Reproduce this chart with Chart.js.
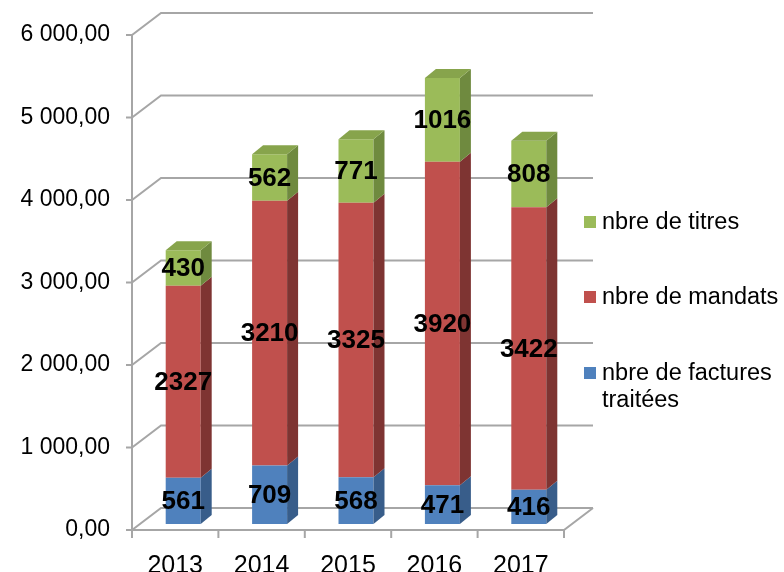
<!DOCTYPE html>
<html><head><meta charset="utf-8">
<script src="https://cdn.jsdelivr.net/npm/chart.js@4/dist/chart.umd.min.js"></script>
<style>html,body{margin:0;padding:0;background:#fff;}canvas{display:block}</style>
</head><body>
<canvas id="c" width="784" height="572"></canvas>
<script>
// ---- data ----
const years = ['2013', '2014', '2015', '2016', '2017'];
const facturesTraitees = [561, 709, 568, 471, 416];
const mandats = [2327, 3210, 3325, 3920, 3422];
const titres = [430, 562, 771, 1016, 808];
const yTicks = [0, 1000, 2000, 3000, 4000, 5000, 6000];
const seriesLabels = ['nbre de factures traitées', 'nbre de mandats', 'nbre de titres'];

// ---- styles ----
const FONT = '"Liberation Sans", Arial, sans-serif';
const FRONT = ['#4F81BD', '#C0504D', '#9BBB59'];
const SIDE = ['#385D8A', '#7E3432', '#6F8A3F'];
const TOP = ['#4472A8', '#A8423F', '#87A44C'];
const GRID = '#A6A6A6';
const AX_SHIFT = {x: -8, y: 6};     // bar plane -> front plane
const WALL = {x: 29, y: -22};      // front -> back wall
const BAR3D = {x: 11, y: -9};      // bar depth

function fmt(v) {
  const s = Number(v).toFixed(2).split('.');
  return s[0].replace(/\B(?=(\d{3})+(?!\d))/g, ' ') + ',' + s[1];
}

const walls = {
  id: 'walls',
  beforeDatasetsDraw(chart) {
    const {ctx, chartArea: a, scales: {x, y}} = chart;
    const fx = a.left + AX_SHIFT.x, rx = a.right + AX_SHIFT.x;
    ctx.save();
    ctx.strokeStyle = GRID; ctx.lineWidth = 2; ctx.lineJoin = 'miter';
    y.ticks.forEach(t => {
      const py = y.getPixelForValue(t.value) + AX_SHIFT.y;
      ctx.beginPath();
      ctx.moveTo(fx - 6, py); ctx.lineTo(fx, py);
      ctx.lineTo(fx + WALL.x, py + WALL.y);
      ctx.lineTo(rx + WALL.x, py + WALL.y);
      ctx.stroke();
    });
    const top = y.getPixelForValue(y.max) + AX_SHIFT.y;
    const bot = y.getPixelForValue(0) + AX_SHIFT.y;
    ctx.beginPath();
    ctx.moveTo(fx, top); ctx.lineTo(fx, bot); ctx.lineTo(rx, bot);
    ctx.lineTo(rx + WALL.x, bot + WALL.y);
    ctx.stroke();
    const n = x.ticks.length, w = (a.right - a.left) / n;
    for (let i = 0; i <= n; i++) {
      const px = a.left + i * w + AX_SHIFT.x;
      ctx.beginPath(); ctx.moveTo(px, bot); ctx.lineTo(px, bot + 8); ctx.stroke();
    }
    ctx.restore();
  }
};

const bars3d = {
  id: 'bars3d',
  afterDatasetsDraw(chart) {
    const ctx = chart.ctx;
    const last = chart.data.datasets.length - 1;
    const poly = pts => { ctx.beginPath(); ctx.moveTo(pts[0][0], pts[0][1]); pts.slice(1).forEach(p => ctx.lineTo(p[0], p[1])); ctx.closePath(); ctx.fill(); };
    ctx.save();
    chart.data.datasets.forEach((ds, di) => {
      chart.getDatasetMeta(di).data.forEach(bar => {
        const {x, y, base, width} = bar.getProps(['x', 'y', 'base', 'width'], true);
        const l = x - width / 2, r = x + width / 2;
        ctx.fillStyle = SIDE[di];
        poly([[r, y], [r + BAR3D.x, y + BAR3D.y], [r + BAR3D.x, base + BAR3D.y], [r, base]]);
        if (di === last) {
          ctx.fillStyle = TOP[di];
          poly([[l, y], [l + BAR3D.x, y + BAR3D.y], [r + BAR3D.x, y + BAR3D.y], [r, y]]);
        }
      });
    });
    ctx.fillStyle = '#000';
    ctx.font = 'bold 26px ' + FONT;
    ctx.textAlign = 'center'; ctx.textBaseline = 'middle';
    chart.data.datasets.forEach((ds, di) => {
      chart.getDatasetMeta(di).data.forEach((bar, i) => {
        const {x, y, base} = bar.getProps(['x', 'y', 'base'], true);
        ctx.fillText(String(ds.data[i]), x, (y + base) / 2 + 1);
      });
    });
    ctx.restore();
  }
};

const legendBox = {
  id: 'legendBox',
  afterDraw(chart) {
    const ctx = chart.ctx;
    const items = chart.data.datasets.map((d, i) => ({text: d.label, color: FRONT[i]})).reverse();
    const rowsY = [216, 291, 367];
    ctx.save();
    ctx.font = '23.5px ' + FONT;
    ctx.textAlign = 'left'; ctx.textBaseline = 'middle';
    items.forEach((it, k) => {
      const y0 = rowsY[k];
      ctx.fillStyle = it.color;
      ctx.fillRect(584, y0, 12, 12);
      ctx.fillStyle = '#000';
      const lines = it.text === 'nbre de factures traitées' ? ['nbre de factures', 'traitées'] : [it.text];
      lines.forEach((ln, j) => ctx.fillText(ln, 602, y0 + 7 + j * 27));
    });
    ctx.restore();
  }
};

new Chart(document.getElementById('c'), {
  type: 'bar',
  data: {
    labels: years,
    datasets: [
      {label: seriesLabels[0], data: facturesTraitees, backgroundColor: FRONT[0]},
      {label: seriesLabels[1], data: mandats, backgroundColor: FRONT[1]},
      {label: seriesLabels[2], data: titres, backgroundColor: FRONT[2]}
    ]
  },
  options: {
    responsive: false, animation: false, devicePixelRatio: 1,
    layout: {padding: {top: 29, right: 212, left: 0, bottom: 0}},
    plugins: {legend: {display: false}, tooltip: {enabled: false}},
    datasets: {bar: {barPercentage: 0.405, categoryPercentage: 1}},
    scales: {
      x: {
        stacked: true,
        grid: {display: false, drawTicks: false}, border: {display: false},
        ticks: {color: '#000', font: {family: FONT, size: 25}, padding: 27, labelOffset: AX_SHIFT.x, maxRotation: 0},
        afterFit(s) { s.height = 48; s.paddingLeft = 0; s.paddingRight = 0; }
      },
      y: {
        stacked: true, min: 0, max: 6000,
        grid: {display: false, drawTicks: false}, border: {display: false},
        afterBuildTicks(s) { s.ticks = yTicks.map(v => ({value: v})); },
        ticks: {color: '#000', font: {family: FONT, size: 23}, padding: 30, labelOffset: AX_SHIFT.y, callback: v => fmt(v)},
        afterFit(s) { s.width = 140; s.paddingTop = 0; s.paddingBottom = 0; }
      }
    }
  },
  plugins: [walls, bars3d, legendBox]
});
</script>
</body></html>
